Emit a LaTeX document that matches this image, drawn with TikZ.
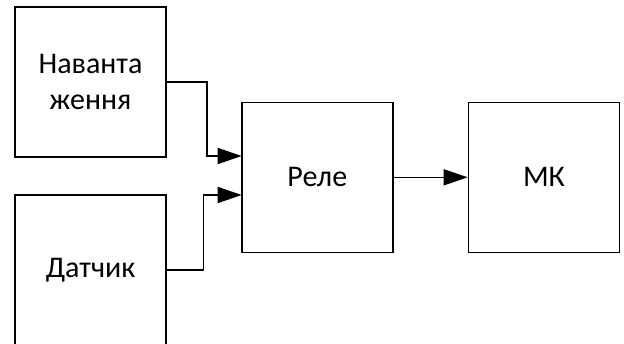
\documentclass[tikz,border=0pt]{standalone}
\usepackage{fontspec}
\setmainfont{Carlito}
\usetikzlibrary{arrows.meta}

\tikzset{
  blok/.style={draw, line width=1.6pt, minimum width=151pt, minimum height=150pt,
    align=center, font=\fontsize{30}{36.5}\selectfont, inner sep=0pt},
  strilka/.style={line width=1.6pt, -{Triangle[length=24pt,width=16pt]}}
}

\begin{document}
\begin{tikzpicture}[x=1pt, y=-1pt]
      \useasboundingbox (0,0) rectangle (624,343);
      % Draw the blocks
      \node[blok] (nav) at (90.5, 82) {Наванта\\ження};
      \node[blok] (dat) at (90.5, 270) {Датчик};
      \node[blok] (rel) at (317.3, 177.3) {Реле};
      \node[blok] (mk) at (544, 177.3) {МК};
      % Inputs of the relay
      \coordinate (in1) at (241.7, 156);
      \coordinate (in2) at (241.7, 195);
      \coordinate (b1) at (207, 156);
      \coordinate (b2) at (203.5, 195);
      % Draw the connections
      \draw[strilka] (nav.east) -| (b1) -- (in1);
      \draw[strilka] (dat.east) -| (b2) -- (in2);
      \draw[strilka] (rel.east) -- (mk.west);
    \end{tikzpicture}
\end{document}
